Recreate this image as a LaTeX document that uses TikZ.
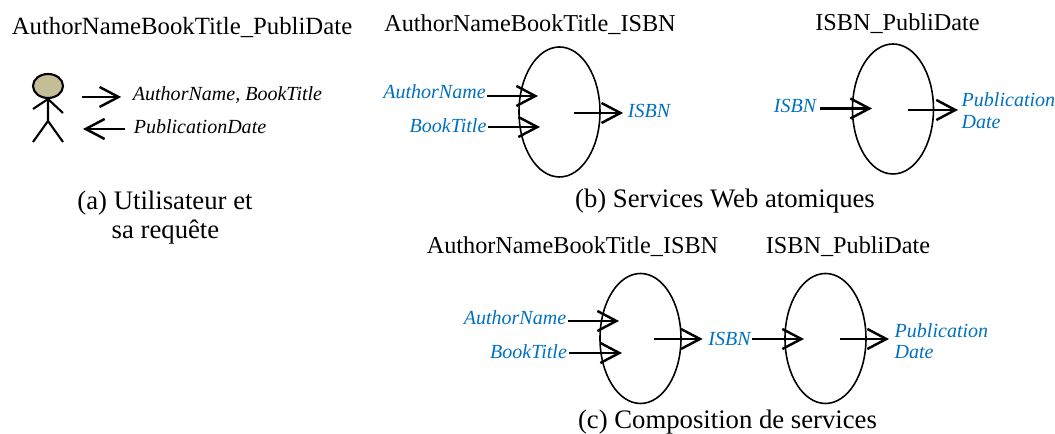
\documentclass[tikz,border=0pt]{standalone}
\usepackage{fontspec}
\setmainfont{Liberation Serif}
\usetikzlibrary{arrows.meta,shapes.geometric}
\definecolor{lblue}{HTML}{0070C0}
\definecolor{headtan}{HTML}{C4BD97}
\tikzset{
    title/.style={inner sep=0, font=\fontsize{6.9}{8}\selectfont},
    caption/.style={inner sep=0, font=\fontsize{7.6}{9}\selectfont},
    param/.style={inner xsep=0.01cm, inner ysep=0, text=lblue, font=\fontsize{5.7}{7}\selectfont\itshape},
    reqtext/.style={inner xsep=0.01cm, inner ysep=0, font=\fontsize{5.7}{7}\selectfont\itshape},
    service/.style={draw, ellipse, line width=0.45pt, minimum width=0.81cm, minimum height=1.3cm, inner sep=0},
    flow/.style={line width=0.7pt, -{Straight Barb[length=0.19cm,width=0.2cm,line width=0.7pt]}},
}
\begin{document}
\begin{tikzpicture}
    \useasboundingbox (0,0) rectangle (10.55,4.34);

    % (a)
    \node[title, font=\fontsize{7.05}{8}\selectfont] (titleA) at (1.82,4.06) {AuthorNameBookTitle\_PubliDate};
    \node[draw, ellipse, fill=headtan, line width=0.6pt, minimum width=0.3cm, minimum height=0.24cm, inner sep=0] (head) at (0.48,3.48) {};
    \coordinate (hip) at (0.48,3.13);
    \coordinate (handl) at (0.33,3.25);
    \coordinate (handr) at (0.63,3.21);
    \coordinate (footl) at (0.33,2.92);
    \coordinate (footr) at (0.63,2.92);
    \draw[line width=0.6pt] (head.south) -- (hip) -- (footl);
    \draw[line width=0.6pt] (hip) -- (footr);
    \draw[line width=0.6pt] (handl) -- (head.south) -- (handr);
    \node[reqtext] (askA) at (2.275,3.39) {AuthorName, BookTitle};
    \node[reqtext] (dateA) at (2.00,3.07) {PublicationDate};
    \coordinate (askS) at (0.82,3.37);
    \coordinate (dateE) at (0.83,3.05);
    \draw[flow, shorten >=0.1cm] (askS) -- (askS -| askA.west);
    \draw[flow, shorten <=0.07cm] (dateA.west |- dateE) -- (dateE);
    \node[caption] (capA1) at (1.65,2.31) {(a) Utilisateur et};
    \node[caption] (capA2) at (1.655,2.02) {sa requête};

    % (b)
    \node[title] (titleB1) at (5.30,4.09) {AuthorNameBookTitle\_ISBN};
    \node[title] (titleB2) at (8.975,4.10) {ISBN\_PubliDate};
    \node[service] (s1) at (5.595,3.22) {};
    \node[service] (s2) at (8.93,3.25) {};
    \node[param] (authB) at (4.345,3.42) {AuthorName};
    \node[param] (bookB) at (4.48,3.08) {BookTitle};
    \node[param] (isbnB) at (6.49,3.23) {ISBN};
    \node[param] (isbnB2) at (7.95,3.28) {ISBN};
    \node[param, anchor=west] (pubB) at (9.60,3.34) {Publication};
    \node[param, anchor=west] (dateB) at (9.60,3.12) {Date};
    \coordinate (h1) at (5.38,3.38);
    \coordinate (h2) at (5.40,3.07);
    \coordinate (t1) at (5.74,3.21);
    \coordinate (h3) at (8.72,3.255);
    \coordinate (t2) at (9.08,3.24);
    \draw[flow] (authB.east |- h1) -- (h1);
    \draw[flow] (bookB.east |- h2) -- (h2);
    \draw[flow, shorten >=0.03cm] (t1) -- (isbnB.west |- t1);
    \draw[flow, shorten <=0.02cm] (isbnB2.east |- h3) -- (h3);
    \draw[flow, shorten >=0.02cm] (t2) -- (pubB.west |- t2);
    \node[caption] (capB) at (7.25,2.33) {(b) Services Web atomiques};

    % (c)
    \node[title] (titleC1) at (5.725,1.87) {AuthorNameBookTitle\_ISBN};
    \node[title] (titleC2) at (8.48,1.87) {ISBN\_PubliDate};
    \node[service] (s3) at (6.405,0.955) {};
    \node[service] (s4) at (8.255,0.955) {};
    \node[param] (authC) at (5.15,1.16) {AuthorName};
    \node[param] (bookC) at (5.285,0.82) {BookTitle};
    \node[param] (isbnC) at (7.295,0.95) {ISBN};
    \node[param, anchor=west] (pubC) at (8.93,1.03) {Publication};
    \node[param, anchor=west] (dateC) at (8.93,0.82) {Date};
    \coordinate (h4) at (6.19,1.13);
    \coordinate (h5) at (6.22,0.81);
    \coordinate (t3) at (6.54,0.95);
    \coordinate (t4) at (8.40,0.95);
    \coordinate (h6) at (8.04,0.95);
    \draw[flow] (authC.east |- h4) -- (h4);
    \draw[flow] (bookC.east |- h5) -- (h5);
    \draw[flow, shorten >=0.04cm] (t3) -- (isbnC.west |- t3);
    \draw[flow] (isbnC.east |- h6) -- (h6);
    \draw[flow, shorten >=0.04cm] (t4) -- (pubC.west |- t4);
    \node[caption] (capC) at (7.275,0.12) {(c) Composition de services};
\end{tikzpicture}
\end{document}
